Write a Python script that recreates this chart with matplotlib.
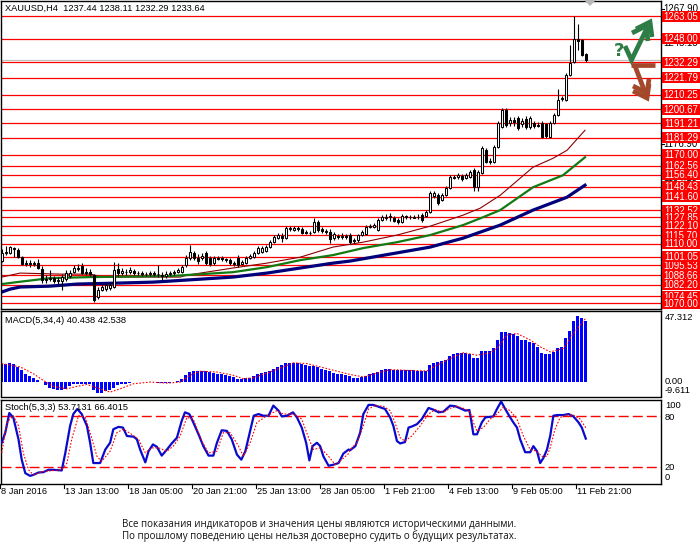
import matplotlib
matplotlib.use('Agg')
import matplotlib.pyplot as plt
from matplotlib.patches import Rectangle, Polygon
from matplotlib.lines import Line2D
from matplotlib.transforms import blended_transform_factory as blend

# ---------------- data ----------------
title_text = "XAUUSD,H4  1237.44 1238.11 1232.29 1233.64"

opens = [1098.3, 1103.6, 1103.6, 1107.0, 1105.7, 1100.9, 1096.2, 1096.9, 1096.2, 1096.9,
         1092.9, 1085.5, 1086.2, 1086.8, 1084.8, 1084.8, 1086.2, 1088.2, 1090.9, 1092.9,
         1094.9, 1090.2, 1090.9, 1088.8, 1074.0, 1078.7, 1079.4, 1080.1, 1080.8, 1092.9,
         1090.2, 1090.9, 1090.9, 1091.5, 1090.2, 1090.2, 1089.5, 1089.5, 1090.2, 1089.5,
         1088.8, 1088.2, 1089.5, 1090.2, 1090.9, 1090.9, 1095.6, 1100.3, 1103.6, 1100.3,
         1100.3, 1103.6, 1100.3, 1096.9, 1100.3, 1100.3, 1099.6, 1098.9, 1096.9, 1100.3,
         1096.2, 1096.9, 1100.3, 1100.9, 1103.6, 1104.3, 1105.0, 1107.7, 1111.0, 1113.7,
         1115.1, 1113.7, 1119.8, 1119.1, 1120.5, 1119.8, 1117.8, 1117.1, 1117.8, 1124.5,
         1119.8, 1118.5, 1117.8, 1113.7, 1115.1, 1114.4, 1115.1, 1115.8, 1112.4, 1112.4,
         1115.8, 1116.4, 1121.1, 1121.1, 1119.1, 1125.8, 1127.2, 1127.8, 1127.2, 1125.8,
         1124.5, 1127.8, 1127.8, 1127.8, 1127.8, 1129.2, 1128.5, 1131.2, 1142.0, 1142.6,
         1139.3, 1142.6, 1147.3, 1154.1, 1154.7, 1155.4, 1154.1, 1154.7, 1159.5, 1148.0,
         1157.4, 1172.9, 1165.5, 1164.8, 1174.9, 1188.4, 1199.8, 1191.1, 1193.1, 1194.4,
         1190.4, 1193.8, 1188.4, 1191.1, 1189.7, 1191.1, 1190.4, 1181.7, 1191.1, 1196.5,
         1207.2, 1206.5, 1223.4, 1232.1, 1248.2, 1246.9, 1237.44]
closes = [1103.6, 1104.3, 1107.7, 1106.3, 1100.9, 1096.2, 1096.9, 1096.2, 1096.9, 1093.6,
          1085.5, 1086.2, 1086.8, 1084.8, 1085.5, 1087.5, 1090.2, 1090.2, 1093.6, 1093.6,
          1090.2, 1090.9, 1089.5, 1072.0, 1078.7, 1080.8, 1082.1, 1082.1, 1092.2, 1090.2,
          1091.5, 1091.2, 1092.2, 1090.2, 1090.5, 1089.5, 1089.8, 1090.2, 1089.5, 1089.9,
          1088.2, 1089.5, 1090.2, 1090.9, 1092.2, 1094.2, 1100.3, 1104.3, 1100.3, 1098.3,
          1101.6, 1096.9, 1096.2, 1100.3, 1100.0, 1099.6, 1098.9, 1096.9, 1096.2, 1095.6,
          1097.6, 1100.3, 1101.6, 1103.6, 1107.0, 1107.0, 1107.7, 1111.0, 1114.4, 1115.8,
          1113.7, 1120.5, 1120.5, 1120.5, 1119.8, 1117.1, 1117.1, 1117.4, 1124.5, 1119.1,
          1118.5, 1117.8, 1113.1, 1116.4, 1114.4, 1115.1, 1114.4, 1111.0, 1111.7, 1115.8,
          1117.8, 1121.1, 1121.8, 1122.5, 1125.8, 1127.8, 1127.8, 1128.5, 1125.2, 1124.5,
          1128.5, 1128.5, 1128.1, 1127.5, 1128.0, 1125.8, 1131.2, 1144.0, 1144.0, 1137.3,
          1142.6, 1147.3, 1154.7, 1154.7, 1156.1, 1153.4, 1156.1, 1158.1, 1148.0, 1158.1,
          1174.3, 1164.8, 1164.8, 1174.9, 1191.1, 1199.8, 1189.7, 1193.1, 1191.7, 1187.7,
          1192.4, 1188.4, 1194.4, 1189.1, 1189.4, 1181.7, 1182.3, 1191.1, 1196.5, 1206.5,
          1207.9, 1223.4, 1231.4, 1248.2, 1246.2, 1236.8, 1233.64]
highs = [1106.3, 1108.4, 1108.4, 1107.7, 1107.0, 1101.6, 1098.9, 1098.9, 1098.3, 1099.6,
         1094.9, 1088.8, 1092.2, 1088.2, 1087.5, 1089.5, 1092.2, 1092.2, 1095.6, 1096.2,
         1096.9, 1093.6, 1092.9, 1089.5, 1080.8, 1082.8, 1083.5, 1084.1, 1097.6, 1096.9,
         1093.6, 1092.9, 1094.2, 1092.9, 1091.5, 1091.5, 1090.9, 1091.5, 1091.5, 1095.6,
         1090.9, 1091.5, 1091.5, 1092.2, 1093.6, 1095.6, 1102.3, 1109.0, 1105.0, 1103.0,
         1103.6, 1105.0, 1101.6, 1101.6, 1101.6, 1101.6, 1100.3, 1100.3, 1098.3, 1102.3,
         1098.9, 1101.6, 1103.0, 1105.0, 1108.4, 1108.4, 1109.0, 1112.4, 1115.8, 1117.1,
         1117.1, 1121.8, 1121.8, 1121.8, 1121.8, 1121.1, 1119.1, 1118.5, 1127.2, 1125.8,
         1121.1, 1119.8, 1119.8, 1117.8, 1116.4, 1117.1, 1116.4, 1117.1, 1113.7, 1116.4,
         1119.1, 1122.5, 1123.2, 1123.8, 1127.2, 1129.2, 1129.9, 1130.5, 1128.5, 1127.2,
         1129.9, 1129.2, 1129.2, 1129.2, 1129.9, 1130.5, 1132.6, 1145.3, 1145.3, 1144.0,
         1144.0, 1148.7, 1156.1, 1156.1, 1157.4, 1156.8, 1157.4, 1159.5, 1160.8, 1159.5,
         1175.6, 1174.3, 1167.5, 1176.3, 1192.4, 1201.2, 1201.2, 1195.1, 1195.1, 1195.8,
         1194.4, 1195.8, 1195.8, 1192.4, 1191.7, 1192.4, 1191.1, 1192.4, 1197.8, 1213.9,
         1209.2, 1224.7, 1243.5, 1263.05, 1258.3, 1248.2, 1238.11]
lows = [1097.6, 1102.3, 1103.0, 1100.9, 1100.3, 1095.6, 1094.9, 1094.2, 1094.9, 1092.9,
        1083.5, 1083.5, 1084.8, 1083.5, 1082.8, 1078.7, 1084.8, 1086.8, 1090.2, 1091.5,
        1089.5, 1088.8, 1088.2, 1070.7, 1072.7, 1078.1, 1078.1, 1078.7, 1080.1, 1088.2,
        1088.8, 1088.8, 1089.5, 1088.8, 1088.8, 1088.2, 1088.2, 1088.2, 1088.2, 1087.5,
        1085.5, 1086.8, 1088.2, 1088.8, 1090.2, 1090.2, 1094.2, 1098.9, 1098.9, 1096.2,
        1098.9, 1095.6, 1094.9, 1095.6, 1098.9, 1098.3, 1097.6, 1095.6, 1094.9, 1094.2,
        1095.6, 1096.2, 1099.6, 1100.3, 1103.0, 1103.6, 1104.3, 1107.0, 1110.4, 1113.1,
        1111.0, 1113.1, 1118.5, 1118.5, 1118.5, 1116.4, 1116.4, 1115.8, 1117.1, 1117.8,
        1117.1, 1116.4, 1110.4, 1112.4, 1113.1, 1113.1, 1113.1, 1109.7, 1110.4, 1111.0,
        1115.1, 1115.8, 1120.5, 1120.5, 1118.5, 1125.2, 1125.8, 1125.2, 1124.5, 1123.2,
        1123.8, 1126.5, 1126.5, 1127.2, 1126.5, 1124.5, 1127.8, 1130.5, 1140.6, 1135.9,
        1138.6, 1142.0, 1146.7, 1153.4, 1153.4, 1152.1, 1153.4, 1154.1, 1145.3, 1145.3,
        1156.8, 1164.2, 1163.5, 1164.2, 1174.3, 1187.7, 1188.4, 1189.1, 1189.1, 1186.4,
        1188.4, 1187.0, 1187.0, 1187.7, 1188.4, 1181.0, 1181.0, 1181.0, 1190.4, 1195.8,
        1205.9, 1205.9, 1222.7, 1231.4, 1240.2, 1236.1, 1232.29]

# moving averages (bar position, price)
ma_thin_x = [0, 4.6, 14.6, 22.1, 25.3, 44.6, 46.3, 57.8, 66.3, 74.6, 82.8, 90.3, 98.8,
             107.1, 115.3, 119.6, 124.6, 132.8, 137.8, 141.3, 145.8]
ma_thin_y = [1087.5, 1090.2, 1089.5, 1089.5, 1087.5, 1087.5, 1088.8, 1093.6, 1096.9, 1100.9,
             1107.7, 1111.0, 1115.8, 1121.8, 1129.2, 1133.9, 1142.6, 1161.5, 1167.5, 1172.9, 1186.4]
ma_green_x = [0, 3.8, 12.1, 22.1, 42.1, 57.8, 66.3, 74.6, 82.8, 90.3, 98.8, 107.1, 115.3,
              120.3, 124.6, 132.8, 140.3, 145.8]
ma_green_y = [1082.8, 1084.1, 1086.8, 1087.5, 1088.2, 1090.8, 1094.2, 1098.9, 1102.3, 1107.0,
              1111.0, 1115.8, 1122.5, 1127.8, 1132.6, 1148.0, 1156.1, 1168.2]
ma_navy_x = [0, 2.1, 4.6, 12.1, 18.8, 29.6, 37.8, 42.1, 57.8, 66.3, 74.6, 82.8, 87.1, 107.1,
             115.3, 124.6, 132.8, 141.3, 145.8]
ma_navy_y = [1077.4, 1079.4, 1080.8, 1081.4, 1082.8, 1083.5, 1084.1, 1084.8, 1087.5, 1090.2,
             1093.6, 1096.9, 1098.3, 1107.7, 1113.7, 1122.5, 1132.6, 1141.3, 1149.4]

levels = [1263.05, 1248.00, 1232.29, 1221.79, 1210.25, 1200.67, 1191.21, 1181.29, 1170.00,
          1162.56, 1156.40, 1148.43, 1141.60, 1132.52, 1127.85, 1122.10, 1115.70, 1110.00,
          1095.53, 1101.05, 1088.66, 1082.20, 1074.45, 1070.00]
bid_price = 1233.64
price_ticks = [1267.90, 1245.15, 1222.40, 1199.65, 1176.90, 1154.15, 1131.40, 1108.65, 1085.90]

macd_hist = [12.3, 12.3, 12.8, 12.3, 10.1, 7.8, 5.1, 3.8, 2.7, 1.6,
             -0.2, -2.2, -3.8, -4.5, -5.1, -5.6, -4.5, -2.9, -1.6, -1.1,
             -1.1, -1.1, -1.6, -5.6, -7.4, -7.4, -6.0, -5.1, -3.8, -2.2,
             -1.6, -1.1, -0.7, 0.2, 0.2, 0.2, 0.2, 0.0, -0.2, -0.4,
             -0.7, -0.7, -0.7, -0.2, 0.4, 2.2, 4.5, 6.7, 7.2, 7.4,
             7.6, 7.2, 6.7, 6.3, 5.6, 5.1, 4.7, 4.3, 3.4, 2.2,
             2.2, 2.7, 2.9, 3.8, 5.6, 6.0, 6.7, 7.4, 8.9, 10.1,
             11.2, 12.8, 12.8, 13.0, 12.8, 11.9, 11.2, 10.7, 10.5, 10.1,
             8.9, 7.8, 7.2, 6.0, 5.6, 5.1, 4.5, 3.8, 2.9, 2.7,
             3.4, 3.8, 5.1, 6.0, 6.7, 7.8, 8.5, 8.9, 8.3, 7.8,
             7.8, 7.8, 7.8, 7.8, 7.4, 7.4, 7.4, 11.2, 12.8, 13.4,
             13.9, 14.5, 17.2, 19.0, 19.5, 19.5, 19.5, 19.0, 16.3, 16.3,
             20.6, 20.6, 20.6, 22.4, 28.0, 33.1, 33.1, 32.4, 32.0, 30.6,
             28.0, 28.0, 26.8, 25.7, 23.5, 19.5, 19.0, 19.0, 20.1, 22.4,
             23.5, 29.1, 34.2, 40.9, 44.1, 42.5, 40.438]
macd_sig_x = [0, 4.6, 7.9, 10.4, 12.9, 16.3, 18.8, 21.3, 23.8, 27.1, 29.6, 33.0, 37.1, 41.3,
              44.6, 47.1, 49.6, 53.8, 57.9, 60.4, 62.9, 66.3, 70.4, 72.9, 76.3, 79.6, 83.0,
              87.0, 90.4, 93.8, 97.1, 101.3, 106.3, 108.8, 112.1, 115.4, 118.8, 122.1, 124.2,
              126.3, 128.8, 132.1, 134.6, 137.1, 140.4, 142.9, 146]
macd_sig_y = [12.3, 10.1, 5.6, 1.1, -2.9, -4.5, -2.9, -1.6, -3.8, -6.7, -4.5, -1.1, 0.0, -0.7,
              0.0, 4.5, 7.2, 6.7, 4.5, 2.2, 2.9, 6.0, 10.1, 12.8, 12.3, 10.1, 7.8,
              5.1, 3.4, 6.0, 8.3, 7.8, 7.4, 11.2, 15.7, 19.5, 17.9, 19.5, 23.5,
              31.3, 32.4, 28.0, 23.5, 20.1, 22.4, 32.4, 42.538]

stoch_x = [0.0, 0.9, 1.9, 2.9, 4.2, 5.0, 5.9, 7.1, 7.9, 9.2, 10.4, 11.7, 12.9, 15.0, 15.9,
           17.1, 17.9, 18.9, 20.0, 21.3, 22.1, 22.9, 24.6, 25.9, 27.1, 27.9, 29.2, 30.3,
           31.3, 33.0, 33.8, 34.6, 35.9, 36.7, 37.8, 38.8, 40.0, 41.3, 42.5, 43.8, 45.0,
           45.8, 46.9, 47.9, 49.2, 50.4, 51.7, 52.9, 53.8, 55.0, 56.3, 57.5, 58.8, 59.9,
           60.9, 62.1, 63.0, 64.2, 65.4, 66.7, 67.9, 69.2, 70.0, 71.3, 72.8, 73.8, 75.0,
           76.1, 76.9, 77.7, 78.8, 79.6, 80.4, 81.7, 82.9, 84.2, 85.4, 86.7,
           87.1, 88.4, 89.6, 90.4, 91.7, 92.9, 94.6, 95.8, 97.1, 97.9, 98.8, 99.6, 100.8,
           101.7, 102.5, 103.8, 105.0, 106.7, 107.9, 109.2, 110.4, 112.1, 113.4, 114.6,
           115.9, 116.9, 117.3, 117.9, 118.8, 120.0, 120.9, 122.9, 123.8, 124.85, 125.85,
           127.1, 127.9, 128.8, 129.6, 130.85, 132.1, 132.9, 133.8, 134.6, 135.4, 136.3,
           137.1, 137.9, 138.8, 140.4, 141.7, 142.9, 144.2, 145.0, 146.0]
stoch_y = [48.8, 60.8, 84.0, 78.8, 52.8, 28.8, 12.8, 9.6, 10.8, 13.6, 14.0, 16.8, 16.8, 16.0, 36.8,
           68.8, 82.8, 88.8, 82.8, 68.8, 48.8, 24.8, 24.8, 40.8, 48.8, 64.8, 67.6, 66.8,
           56.8, 56.0, 52.8, 40.8, 25.6, 38.8, 46.8, 44.0, 33.6, 40.8, 48.0, 54.8, 74.8,
           84.8, 82.8, 72.8, 58.8, 44.8, 33.6, 33.6, 48.8, 63.6, 62.8, 52.8, 34.8, 28.8,
           38.8, 62.8, 80.8, 82.8, 80.8, 80.8, 92.8, 86.8, 80.0, 80.8, 84.8, 78.8, 66.8,
           48.8, 28.0, 44.8, 48.8, 44.8, 32.8, 21.6, 22.8, 24.8, 36.0, 40.8,
           40.0, 44.8, 60.8, 82.8, 93.6, 93.6, 90.8, 88.8, 78.8, 68.8, 50.8, 48.0, 49.6,
           66.8, 68.0, 70.8, 76.8, 90.0, 88.0, 84.8, 85.6, 92.8, 92.0, 89.6,
           86.8, 87.6, 76.8, 58.8, 58.8, 72.8, 78.8, 80.0, 88.8, 97.6, 88.8,
           78.8, 72.8, 66.8, 52.8, 37.6, 37.6, 44.8, 38.8, 24.8, 30.8, 40.8,
           56.8, 80.8, 81.6, 81.6, 82.8, 80.0, 72.8, 66.8, 53.7131]
stoch_sig_x = [0.0, 1.3, 2.9, 4.2, 5.4, 6.7, 7.9, 10.4, 15.0, 16.3, 17.5, 19.2, 20.9, 22.1,
               23.8, 25.0, 27.1, 28.8, 30.4, 32.5, 34.2, 35.9, 37.5, 39.2, 41.3, 42.9, 44.6,
               46.3, 47.9, 50.0, 51.7, 53.8, 55.4, 57.1, 59.2, 60.4, 62.1, 63.8, 66.3, 68.8,
               70.4, 72.9, 75.0, 76.7, 77.9, 79.6, 81.7, 83.4, 85.0, 86.7,
               87.1, 88.8, 90.4, 91.7, 93.3, 95.4, 97.1, 98.3, 99.6, 100.8, 102.5, 104.6,
               106.7, 108.3, 110.4, 112.1, 113.8, 115.9, 117.1, 117.9, 118.8, 120.4, 122.1,
               123.8, 125.4, 127.1, 128.8, 130.4, 132.1, 133.8, 135.0, 136.3, 137.1, 138.3,
               139.6, 141.3, 142.9, 144.6, 146.0]
stoch_sig_y = [36.8, 72.8, 80.8, 68.8, 36.8, 16.8, 10.8, 14.8, 16.8, 24.8, 52.8, 80.8, 78.8, 60.8,
               32.8, 26.8, 38.8, 60.8, 64.8, 58.8, 52.8, 36.8, 42.8, 42.8, 38.8, 44.8, 56.8,
               78.8, 76.8, 50.8, 36.8, 38.8, 60.8, 60.8, 44.8, 32.8, 48.8, 72.8, 80.8, 86.8,
               82.8, 82.8, 76.8, 54.8, 40.8, 42.8, 32.8, 22.8, 28.8, 36.0,
               40.8, 48.8, 68.8, 88.8, 92.8, 92.0, 86.8, 72.8, 54.8, 50.8, 56.8, 68.8,
               82.8, 88.0, 84.8, 89.6, 92.0, 88.8, 84.8, 72.8, 62.8, 66.8, 76.8,
               82.8, 90.8, 86.8, 76.8, 56.8, 40.8, 38.8, 32.8, 32.8, 42.8, 64.8,
               78.8, 81.6, 81.6, 76.8, 66.4015]

date_bars = [0, 16, 32, 48, 64, 80, 96, 112, 128, 144]
date_labels = ["8 Jan 2016", "13 Jan 13:00", "18 Jan 05:00", "20 Jan 21:00", "25 Jan 13:00",
               "28 Jan 05:00", "1 Feb 21:00", "4 Feb 13:00", "9 Feb 05:00", "11 Feb 21:00"]

disclaimer = ["Все показания индикаторов и значения цены являются историческими данными.",
              "По прошлому поведению цены нельзя достоверно судить о будущих результатах."]

# ---------------- figure ----------------
W, H = 700, 552
FONT = ['Liberation Sans', 'DejaVu Sans']
plt.rcParams['font.family'] = FONT
fig = plt.figure(figsize=(7, 5.52), dpi=100)
fig.patch.set_facecolor('white')

def px_axes(x0, y0, x1, y1, **kw):
    return fig.add_axes([x0 / W, 1 - y1 / H, (x1 - x0) / W, (y1 - y0) / H], **kw)

def fy(y):
    return 1 - y / H

XL = (-0.3, 164.8)
n = len(closes)
idx = list(range(n))

def style_panel(ax):
    ax.set_xlim(*XL)
    ax.set_xticks([])
    ax.set_yticks([])
    for s in ax.spines.values():
        s.set_color('black')
        s.set_linewidth(1.0)

# ---- main price panel ----
ax = px_axes(0.5, 0.5, 661, 309)
style_panel(ax)
ax.set_ylim(1066.0, 1273.81)

for lv in levels:
    ax.axhline(lv, color='#ff0000', lw=0.9, zorder=1)
ax.axhline(bid_price, color='#c0c0c0', lw=0.9, zorder=1)

ax.plot(ma_thin_x, ma_thin_y, color='#8b0000', lw=0.8, zorder=2)
ax.plot(ma_green_x, ma_green_y, color='#127a12', lw=1.6, zorder=2)
ax.plot(ma_navy_x, ma_navy_y, color='#00007a', lw=2.3, zorder=2)

for i in idx:
    ax.vlines(i, lows[i], highs[i], color='black', lw=0.8, zorder=3)
    o, c = opens[i], closes[i]
    bottom = min(o, c)
    h = max(abs(c - o), 0.25)
    fc = 'white' if c >= o else 'black'
    ax.bar(i, h, bottom=bottom, width=0.5, color=fc, edgecolor='black', lw=0.75, zorder=4)

# right price scale
tr_r = blend(fig.transFigure, ax.transData)
for t in price_ticks:
    ax.text(663 / W, t, f"{t:.2f}", transform=tr_r, fontsize=6.9, va='center', ha='left',
            color='black', clip_on=False, zorder=5)
    ax.add_line(Line2D([661 / W, 664 / W], [t, t], transform=tr_r, color='black', lw=0.8,
                       clip_on=False, zorder=5))
box_h = 11 / 1.4867
for k, lv in enumerate(levels):
    ax.add_patch(Rectangle((662 / W, lv - box_h / 2), 38 / W, box_h, transform=tr_r,
                           facecolor='#ff0000', edgecolor='none', clip_on=False, zorder=10 + 2 * k))
    ax.text(681 / W, lv - 0.3, f"{lv:.2f}", transform=tr_r, fontsize=6.9, va='center', ha='center',
            color='white', clip_on=False, zorder=11 + 2 * k)

fig.text(5 / W, fy(8), title_text, fontsize=6.7, va='center', ha='left', color='black')

# ---- MACD panel ----
axm = px_axes(0.5, 311, 661, 396.5)
style_panel(axm)
axm.set_ylim(-9.611, 47.312)
axm.bar(idx, macd_hist, width=0.75, color='#0000ff', zorder=2)
axm.plot(macd_sig_x, macd_sig_y, color='#ff0000', lw=0.8, dashes=(1.5, 1.5), zorder=3)
fig.text(5 / W, fy(320.5), "MACD(5,34,4) 40.438 42.538", fontsize=6.7, va='center', ha='left')
for txt, yy in [("47.312", 318), ("0.00", 381.5), ("-9.611", 390.5)]:
    fig.text(665 / W, fy(yy), txt, fontsize=6.7, va='center', ha='left')

# ---- Stochastic panel ----
axs = px_axes(0.5, 399.5, 661, 484)
style_panel(axs)
axs.set_ylim(0, 100)
axs.axhline(80, color='#ff0000', lw=1.0, dashes=(7.2, 2.9), zorder=1)
axs.axhline(20, color='#ff0000', lw=1.0, dashes=(7.2, 2.9), zorder=1)
axs.plot(stoch_x, stoch_y, color='#0a0acc', lw=1.6, zorder=3)
axs.plot(stoch_sig_x, stoch_sig_y, color='#ff0000', lw=0.8, dashes=(1.5, 1.5), zorder=4)
fig.text(5 / W, fy(408), "Stoch(5,3,3) 53.7131 66.4015", fontsize=6.7, va='center', ha='left')
for txt, yy in [("100", 406), ("80", 417.5), ("20", 467.5), ("0", 477.5)]:
    fig.text(665 / W, fy(yy), txt, fontsize=6.7, va='center', ha='left')

# date axis
tr_d = blend(axs.transData, fig.transFigure)
for b, lab in zip(date_bars, date_labels):
    xb = b - 0.4
    axs.add_line(Line2D([xb, xb], [fy(484), fy(488)], transform=tr_d, color='black', lw=0.8,
                        clip_on=False))
    axs.text(xb + 0.2, fy(491), lab, transform=tr_d, fontsize=6.7, ha='left', va='center',
             clip_on=False)

# ---- overlay decorations (pixel coordinates) ----
ov = fig.add_axes([0, 0, 1, 1], zorder=20)
ov.set_xlim(0, W)
ov.set_ylim(H, 0)
ov.axis('off')
ov.patch.set_alpha(0)

green = '#2e7d46'
brown = '#a3482b'
lwp = 3.4
ov.plot([625, 631.5, 648], [46, 60, 26], color=green, lw=lwp, solid_capstyle='butt',
        solid_joinstyle='miter')
for d in (0, 4):
    ov.plot([636 - d, 650 - d, 652 - d], [29 + d, 22 + d, 37 + d], color=green, lw=lwp,
            solid_capstyle='butt', solid_joinstyle='miter')
ov.text(619, 51, "?", color=green, fontsize=13, fontweight='bold', ha='center', va='center',
        family='DejaVu Sans')
ov.plot([631, 655], [65, 65], color=brown, lw=lwp, solid_capstyle='butt')
ov.plot([635, 646], [66, 95], color=brown, lw=lwp, solid_capstyle='butt')
for d in (0, 5):
    ov.plot([633, 647, 649], [91 - d, 98 - d, 84 - d], color=brown, lw=lwp,
            solid_capstyle='butt', solid_joinstyle='miter')
ov.add_patch(Polygon([[584, 0], [596, 0], [590, 6]], closed=True, facecolor='#b8b8b8',
                     edgecolor='none'))

for k, line in enumerate(disclaimer):
    fig.text(319 / W, fy(524 + 12 * k), line, fontsize=7.0, ha='center', va='center',
             color='#111111', family=['Open Sans', 'DejaVu Sans'])

fig.savefig('out.png', dpi=100, facecolor='white')
